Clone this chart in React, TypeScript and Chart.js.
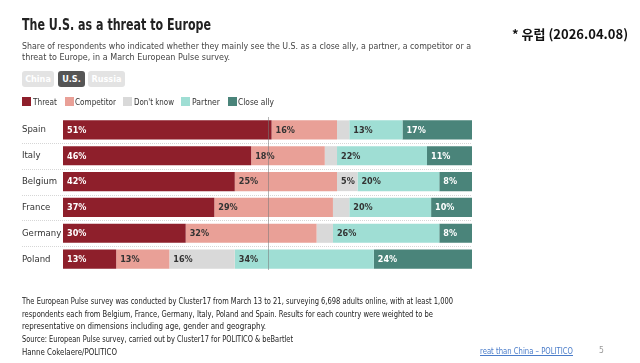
import React, { useEffect, useLayoutEffect, useRef } from "react";
import { Chart, registerables } from "chart.js";

Chart.register(...registerables);

const countries = ["Spain", "Italy", "Belgium", "France", "Germany", "Poland"];
const threat = [51, 46, 42, 37, 30, 13];
const competitor = [16, 18, 25, 29, 32, 13];
const dontKnow = [3, 3, 5, 4, 4, 16];
const partner = [13, 22, 20, 20, 26, 34];
const closeAlly = [17, 11, 8, 10, 8, 24];

const seriesNames = ["Threat", "Competitor", "Don't know", "Partner", "Close ally"];
const seriesColors = ["#8e1f2b", "#e9a097", "#d9d9d9", "#9fded4", "#4a847a"];
const labelColors = ["#ffffff", "#333333", "#333333", "#333333", "#ffffff"];

const FONT = "'DejaVu Sans Condensed', 'DejaVu Sans', sans-serif";

const overlayPlugin = {
  id: "overlay",
  afterDatasetsDraw(chart: any) {
    const ctx = chart.ctx;
    const x = chart.scales.x;
    const y = chart.scales.y;
    const area = chart.chartArea;
    ctx.save();
    ctx.strokeStyle = "#d6d6d6";
    ctx.lineWidth = 1;
    ctx.setLineDash([1, 1]);
    for (let i = 0; i < countries.length - 1; i++) {
      const yy = Math.round((y.getPixelForValue(i) + y.getPixelForValue(i + 1)) / 2) + 0.5;
      ctx.beginPath();
      ctx.moveTo(22, yy);
      ctx.lineTo(area.right, yy);
      ctx.stroke();
    }
    ctx.setLineDash([]);
    ctx.font = `bold 9px ${FONT}`;
    ctx.textBaseline = "middle";
    ctx.textAlign = "left";
    chart.data.datasets.forEach((ds: any, di: number) => {
      const meta = chart.getDatasetMeta(di);
      meta.data.forEach((bar: any, i: number) => {
        const v = ds.data[i];
        if (v < 5) return;
        const left = Math.min(bar.x, bar.base);
        ctx.fillStyle = labelColors[di];
        ctx.fillText(v + "%", left + 4, bar.y + 0.5);
      });
    });
    const x50 = Math.round(x.getPixelForValue(50)) + 0.5;
    ctx.strokeStyle = "rgba(120,120,120,0.55)";
    ctx.lineWidth = 1;
    ctx.beginPath();
    ctx.moveTo(x50, area.top);
    ctx.lineTo(x50, area.bottom - 2);
    ctx.stroke();
    ctx.restore();
  },
};

type FitProps = {
  left: number;
  cy: number;
  width: number;
  size: number;
  bold?: boolean;
  color?: string;
  family?: string;
  underline?: boolean;
  children: React.ReactNode;
};

function FitText({ left, cy, width, size, bold, color, family, underline, children }: FitProps) {
  const ref = useRef<HTMLSpanElement>(null);
  useLayoutEffect(() => {
    const el = ref.current!;
    el.style.transform = "none";
    const w = el.getBoundingClientRect().width;
    if (w > 0) el.style.transform = `scaleX(${width / w})`;
  });
  const lh = Math.round(size * 1.4);
  return (
    <span
      ref={ref}
      style={{
        position: "absolute",
        left,
        top: cy - lh / 2,
        lineHeight: `${lh}px`,
        fontSize: size,
        fontWeight: bold ? "bold" : "normal",
        color: color || "#222",
        fontFamily: family || FONT,
        whiteSpace: "nowrap",
        transformOrigin: "0 50%",
        textDecoration: underline ? "underline" : "none",
        display: "inline-block",
      }}
    >
      {children}
    </span>
  );
}

export default function App() {
  const ref = useRef<HTMLCanvasElement>(null);
  useEffect(() => {
    const all = [threat, competitor, dontKnow, partner, closeAlly];
    const chart = new Chart(ref.current!, {
      type: "bar",
      data: {
        labels: countries,
        datasets: all.map((d, i) => ({
          label: seriesNames[i],
          data: d,
          backgroundColor: seriesColors[i],
          borderWidth: 0,
          barPercentage: 0.74,
          categoryPercentage: 1,
        })),
      },
      options: {
        indexAxis: "y",
        animation: false,
        responsive: false,
        maintainAspectRatio: false,
        layout: { padding: { left: 22, top: 117, right: 168, bottom: 91 } },
        plugins: { legend: { display: false }, tooltip: { enabled: false } },
        scales: {
          x: { stacked: true, min: 0, max: 100, display: false },
          y: {
            stacked: true,
            grid: { display: false },
            border: { display: false },
            ticks: { crossAlign: "far", color: "#333", font: { family: FONT, size: 9.5 }, padding: 0 },
            afterFit(scale: any) {
              scale.width = 41;
            },
          },
        },
      },
      plugins: [overlayPlugin],
    } as any);
    return () => chart.destroy();
  }, []);

  const legendSq = [22, 65, 123, 181, 228];
  const legendTx = [
    [33, 24],
    [75, 41],
    [134, 40],
    [192, 28],
    [238, 36],
  ];
  const btn = (text: string, active: boolean, left: number, width: number) => (
    <div
      style={{
        position: "absolute",
        left,
        top: 71,
        width,
        height: 16,
        borderRadius: 3,
        background: active ? "#555555" : "#e3e3e3",
        color: "#ffffff",
        fontSize: 9,
        fontWeight: "bold",
        lineHeight: "16px",
        textAlign: "center",
        fontFamily: FONT,
        whiteSpace: "nowrap",
      }}
    >
      {text}
    </div>
  );

  return (
    <div style={{ position: "fixed", left: 0, top: 0, width: 640, height: 363, background: "#fff", fontFamily: FONT, color: "#222", overflow: "hidden" }}>
      <canvas ref={ref} width={640} height={363} style={{ position: "absolute", left: 0, top: 0 }} />
      <FitText left={22} cy={25} width={189} size={16} bold color="#222">
        The U.S. as a threat to Europe
      </FitText>
      <FitText left={22} cy={45} width={449} size={9.5} color="#444">
        Share of respondents who indicated whether they mainly see the U.S. as a close ally, a partner, a competitor or a
      </FitText>
      <FitText left={22} cy={56.5} width={208} size={9.5} color="#444">
        threat to Europe, in a March European Pulse survey.
      </FitText>
      {btn("China", false, 22, 32)}
      {btn("U.S.", true, 58, 27)}
      {btn("Russia", false, 88, 37)}
      {seriesNames.map((n, i) => (
        <React.Fragment key={n}>
          <div style={{ position: "absolute", left: legendSq[i], top: 97, width: 9, height: 9, background: seriesColors[i] }} />
          <FitText left={legendTx[i][0]} cy={101.5} width={legendTx[i][1]} size={9.5} color="#333">
            {n}
          </FitText>
        </React.Fragment>
      ))}
      <div
        style={{
          position: "absolute",
          left: 512,
          top: 24,
          fontSize: 13,
          fontWeight: "bold",
          color: "#111",
          whiteSpace: "nowrap",
          fontFamily: "'Noto Sans CJK KR', 'Noto Sans', sans-serif",
        }}
      >
        * 유럽 (2026.04.08)
      </div>
      <FitText left={22} cy={301} width={431} size={8.5}>
        The European Pulse survey was conducted by Cluster17 from March 13 to 21, surveying 6,698 adults online, with at least 1,000
      </FitText>
      <FitText left={22} cy={313.5} width={411} size={8.5}>
        respondents each from Belgium, France, Germany, Italy, Poland and Spain. Results for each country were weighted to be
      </FitText>
      <FitText left={22} cy={326} width={244} size={8.5}>
        representative on dimensions including age, gender and geography.
      </FitText>
      <FitText left={22} cy={339} width={271} size={8.5}>
        Source: European Pulse survey, carried out by Cluster17 for POLITICO &amp; beBartlet
      </FitText>
      <FitText left={22} cy={352} width={95} size={8.5}>
        Hanne Cokelaere/POLITICO
      </FitText>
      <FitText left={480} cy={351} width={93} size={8.5} color="#4a7cc9" underline>
        reat than China – POLITICO
      </FitText>
      <div style={{ position: "absolute", left: 599, top: 345, fontSize: 8.5, color: "#999", fontFamily: FONT }}>5</div>
    </div>
  );
}
